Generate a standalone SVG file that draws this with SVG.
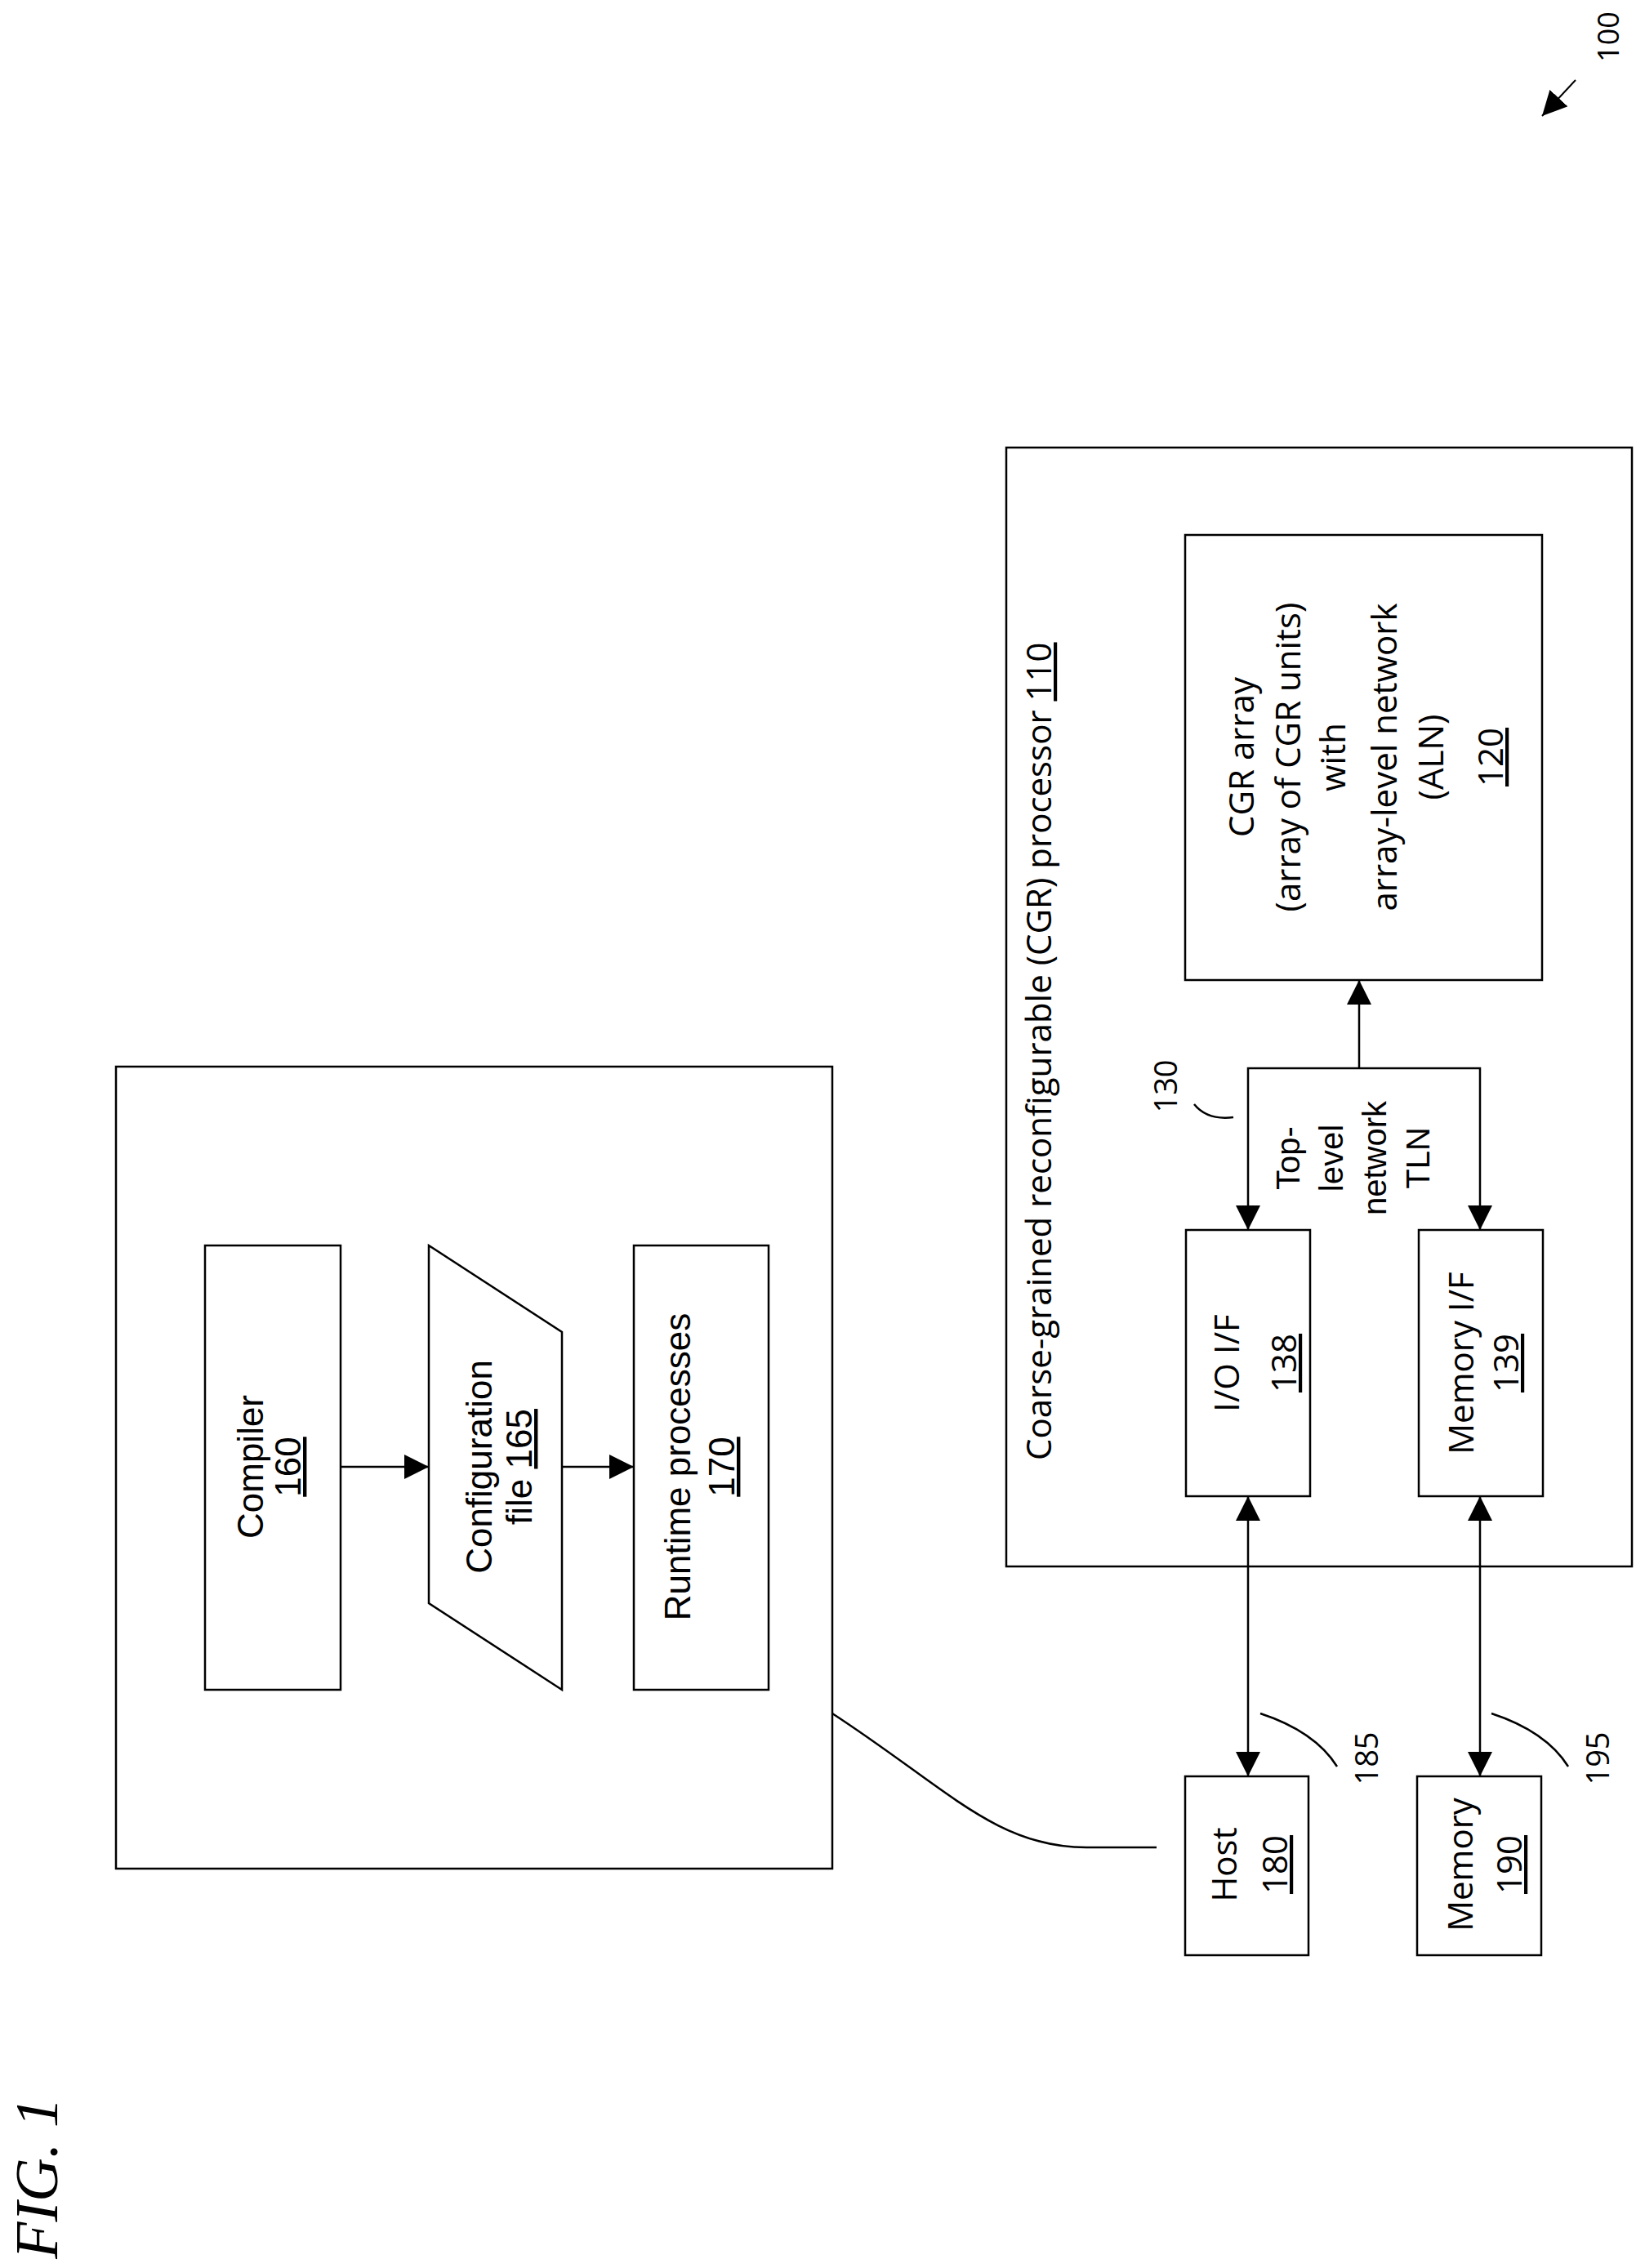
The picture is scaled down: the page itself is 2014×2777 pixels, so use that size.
<svg xmlns="http://www.w3.org/2000/svg" width="2014" height="2777" viewBox="0 0 2014 2777">
<style>
.b{fill:none;stroke:#000;stroke-width:2.5}
.c{fill:none;stroke:#000;stroke-width:2.5}
.s{font-family:"Liberation Sans",Arial,sans-serif;font-size:44px;text-anchor:middle;fill:#000}
.o{font-family:"Open Sans","Noto Sans",sans-serif;font-size:42px;text-anchor:middle;fill:#000}
.u{text-decoration:underline}
</style>
<defs>
<marker id="ah" viewBox="0 0 10 10" refX="10" refY="5" markerWidth="30" markerHeight="30" markerUnits="userSpaceOnUse" orient="auto-start-reverse"><path d="M0,0 L10,5 L0,10 z" fill="#000"/></marker>
</defs>
<rect width="2014" height="2777" fill="#fff"/>
<g id="host-sw">
<rect class="b" x="142" y="1306" width="877" height="982"/>
</g>
<g id="compiler">
<rect class="b" x="251" y="1525" width="166" height="544"/>
<text class="s" transform="translate(334,1796) rotate(-90)"><tspan x="0" y="-12">Compiler</tspan><tspan x="0" y="34" class="u">160</tspan></text>
</g>
<g id="config">
<polygon class="b" points="525,1525 688,1631 688,2069 525,1963"/>
<text class="s" transform="translate(606,1796) rotate(-90)"><tspan x="0" y="-4">Configuration</tspan><tspan x="0" y="45">file <tspan class="u">165</tspan></tspan></text>
</g>
<g id="runtime">
<rect class="b" x="776" y="1525" width="165" height="544"/>
<text class="s" transform="translate(858,1796) rotate(-90)"><tspan x="0" y="-13">Runtime processes</tspan><tspan x="0" y="41" class="u">170</tspan></text>
</g>
<g id="cgr">
<rect class="b" x="1232" y="548" width="766" height="1370"/>
<text class="o" style="text-anchor:start" transform="translate(1287,1788) rotate(-90)">Coarse-grained reconfigurable (CGR) processor <tspan class="u">110</tspan></text>
</g>
<g id="cgr-array">
<rect class="b" x="1451" y="655" width="437" height="545"/>
<text class="o" transform="translate(1670,927) rotate(-90)"><tspan x="0" y="-135">CGR array</tspan><tspan x="0" y="-78">(array of CGR units)</tspan><tspan x="0" y="-23">with</tspan><tspan x="0" y="40">array-level network</tspan><tspan x="0" y="97">(ALN)</tspan><tspan x="0" y="170" class="u">120</tspan></text>
</g>
<g id="io-if">
<rect class="b" x="1452" y="1506" width="152" height="326"/>
<text class="o" transform="translate(1528,1669) rotate(-90)"><tspan x="0" y="-11">I/O I/F</tspan><tspan x="0" y="59" class="u">138</tspan></text>
</g>
<g id="mem-if">
<rect class="b" x="1737" y="1506" width="152" height="326"/>
<text class="o" transform="translate(1813,1669) rotate(-90)"><tspan x="0" y="-9">Memory I/F</tspan><tspan x="0" y="46" class="u">139</tspan></text>
</g>
<g id="host">
<rect class="b" x="1451" y="2175" width="151" height="219"/>
<text class="o" transform="translate(1526,2283) rotate(-90)"><tspan x="0" y="-12">Host</tspan><tspan x="0" y="50" class="u">180</tspan></text>
</g>
<g id="memory">
<rect class="b" x="1735" y="2175" width="152" height="219"/>
<text class="o" transform="translate(1811,2283) rotate(-90)"><tspan x="0" y="-8">Memory</tspan><tspan x="0" y="52" class="u">190</tspan></text>
</g>
<g id="connectors">
<line class="c" x1="417" y1="1796" x2="525" y2="1796" marker-end="url(#ah)"/>
<line class="c" x1="688" y1="1796" x2="776" y2="1796" marker-end="url(#ah)"/>
<path class="c" d="M1528,1506 L1528,1308 L1812,1308 L1812,1506" marker-start="url(#ah)" marker-end="url(#ah)"/>
<line class="c" x1="1664" y1="1308" x2="1664" y2="1200" marker-end="url(#ah)"/>
<line class="c" x1="1528" y1="1832" x2="1528" y2="2175" marker-start="url(#ah)" marker-end="url(#ah)"/>
<line class="c" x1="1812" y1="1832" x2="1812" y2="2175" marker-start="url(#ah)" marker-end="url(#ah)"/>
<path class="c" d="M1019,2098 C1160,2190 1220,2262 1330,2262 L1416,2262"/>
<path class="c" d="M1543,2098 Q1610,2120 1637,2163"/>
<path class="c" d="M1826,2098 Q1893,2120 1920,2163"/>
<path class="c" d="M1462,1352 Q1478,1372 1510,1368"/>
<path class="c" d="M1929,98 L1888,142" marker-end="url(#ah)" style="stroke-width:2"/>
</g>
<g id="labels">
<text class="s" style="font-size:40px" transform="translate(1655,1418) rotate(-90)"><tspan x="0" y="-64">Top-</tspan><tspan x="0" y="-11">level</tspan><tspan x="0" y="42">network</tspan><tspan x="0" y="95">TLN</tspan></text>
<text class="o" style="font-size:38px" transform="translate(1441,1330) rotate(-90)">130</text>
<text class="o" style="font-size:38px" transform="translate(1687,2153) rotate(-90)">185</text>
<text class="o" style="font-size:38px" transform="translate(1970,2153) rotate(-90)">195</text>
<text class="o" style="font-size:36px" transform="translate(1982,45) rotate(-90)">100</text>
<text style="font-family:'Liberation Serif','Times New Roman',serif;font-style:italic;font-size:74px;text-anchor:middle" transform="translate(70,2667) rotate(-90)">FIG. 1</text>
</g>
</svg>
